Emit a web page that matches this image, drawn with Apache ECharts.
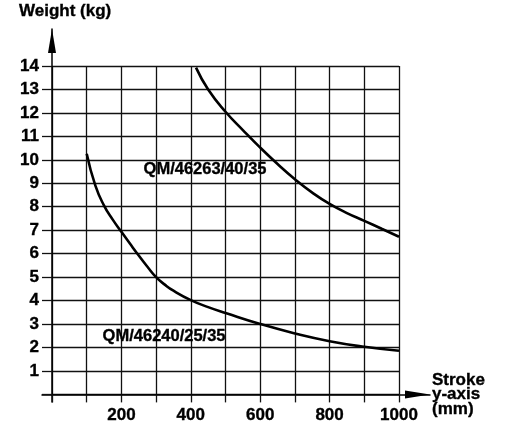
<!DOCTYPE html>
<html>
<head>
<meta charset="utf-8">
<script src="https://cdn.jsdelivr.net/npm/echarts@6/dist/echarts.min.js"></script>
<style>
html,body{margin:0;padding:0;background:#fff;}
#chart{width:507px;height:425px;}
</style>
</head>
<body>
<div id="chart"></div>
<script>
// ---- data ----
const curveNames = ['QM/46240/25/35', 'QM/46263/40/35'];
const stroke1 = [100, 125, 150, 175, 200, 225, 250, 275, 300, 325, 350, 400, 450, 500, 600, 700, 800, 900, 1000];
const weight1 = [10.26, 8.9, 8.05, 7.45, 6.93, 6.42, 5.92, 5.44, 5.0, 4.68, 4.42, 4.02, 3.72, 3.47, 3.0, 2.6, 2.27, 2.03, 1.86];
const stroke2 = [415, 450, 500, 550, 600, 650, 700, 750, 800, 850, 900, 950, 1000];
const weight2 = [13.93, 13.0, 12.05, 11.27, 10.52, 9.82, 9.17, 8.6, 8.12, 7.73, 7.40, 7.06, 6.72];
const labelPos1 = [323, 2.49];
const labelPos2 = [441, 9.57];
const xTickLabels = [200, 400, 600, 800, 1000];
const yTickLabels = [1, 2, 3, 4, 5, 6, 7, 8, 9, 10, 11, 12, 13, 14];
const yTitle = 'Weight (kg)';
const xTitle = 'Stroke\ny-axis\n(mm)';

const FONT = 'Liberation Sans, Arial, sans-serif';
const pairs = (xs, ys) => xs.map((x, i) => [x, ys[i]]);

const chart = echarts.init(document.getElementById('chart'), null, {renderer: 'canvas'});

const gridLine = {color: '#111', width: 1.3};
const boldText = {color: '#000', fontFamily: FONT, fontWeight: 'bold', textBorderColor: '#000', textBorderWidth: 0.35};
const labelStyle = Object.assign({fontSize: 17}, boldText);

function curveSeries(xs, ys, name, pos) {
  return {
    type: 'line',
    name: name,
    xAxisIndex: 0,
    yAxisIndex: 0,
    data: pairs(xs, ys),
    smooth: 0.5,
    showSymbol: false,
    lineStyle: {color: '#000', width: 2.6},
    itemStyle: {color: '#000'},
    markPoint: {
      symbol: 'circle',
      symbolSize: 0,
      silent: true,
      label: Object.assign({
        show: true,
        position: 'inside',
        formatter: name,
        fontSize: 16.5
      }, boldText),
      data: [{name: name, coord: pos}]
    }
  };
}

const option = {
  backgroundColor: '#fff',
  animation: false,
  title: {
    text: yTitle,
    left: 19,
    top: 3,
    padding: 0,
    textStyle: Object.assign({fontSize: 17}, boldText)
  },
  grid: [
    {left: 52, top: 66, width: 347, height: 328.4},
    {left: 42, top: 66, width: 388, height: 328.4},
    {left: 52, top: 29, width: 347, height: 373}
  ],
  xAxis: [
    {
      gridIndex: 0, type: 'value', min: 0, max: 1000, interval: 100,
      axisLine: {show: false},
      axisTick: {show: true, length: 8, lineStyle: gridLine},
      splitLine: {show: true, lineStyle: gridLine},
      axisLabel: Object.assign({
        margin: 12,
        showMinLabel: true, showMaxLabel: true,
        formatter: v => (xTickLabels.indexOf(v) >= 0 ? String(v) : '')
      }, labelStyle)
    },
    {
      gridIndex: 1, type: 'value', min: 0, max: 1,
      axisLine: {show: true, onZero: false, symbol: ['none', 'triangle'], symbolSize: [8, 25], symbolOffset: [0, -12.5],
        lineStyle: {color: '#000', width: 1.5}},
      axisTick: {show: false}, axisLabel: {show: false}, splitLine: {show: false},
      name: xTitle, nameLocation: 'end', nameGap: 2,
      nameTextStyle: Object.assign({fontSize: 17, lineHeight: 14.5, align: 'left', verticalAlign: 'middle'}, boldText)
    },
    {gridIndex: 2, type: 'value', min: 0, max: 1, show: false}
  ],
  yAxis: [
    {
      gridIndex: 0, type: 'value', min: 0, max: 14, interval: 1,
      axisLine: {show: false},
      axisTick: {show: true, length: 10, lineStyle: gridLine},
      splitLine: {show: true, lineStyle: gridLine},
      axisLabel: Object.assign({
        margin: 13,
        formatter: v => (yTickLabels.indexOf(v) >= 0 ? String(v) : '')
      }, labelStyle)
    },
    {gridIndex: 1, type: 'value', min: 0, max: 1, show: false},
    {
      gridIndex: 2, type: 'value', min: 0, max: 1,
      axisLine: {show: true, onZero: false, symbol: ['none', 'triangle'], symbolSize: [8, 24], symbolOffset: [0, -12],
        lineStyle: {color: '#000', width: 1.5}},
      axisTick: {show: false}, axisLabel: {show: false}, splitLine: {show: false}
    }
  ],
  series: [
    curveSeries(stroke1, weight1, curveNames[0], labelPos1),
    curveSeries(stroke2, weight2, curveNames[1], labelPos2)
  ]
};

chart.setOption(option);
</script>
</body>
</html>
